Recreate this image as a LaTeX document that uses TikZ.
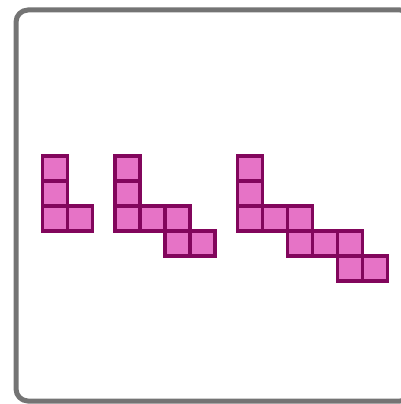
\documentclass[tikz,border=0pt]{standalone}
\usetikzlibrary{positioning}
\definecolor{cellfill}{HTML}{E673C6}
\definecolor{celledge}{HTML}{82065C}
\definecolor{framegray}{HTML}{747474}
\tikzset{
  cell/.style={
    draw=celledge,
    fill=cellfill,
    rectangle,
    minimum size=25pt,
    inner sep=0pt,
    line width=3.5pt,
  },
  frame/.style={draw=framegray, line width=5pt, rounded corners=12pt},
}

\begin{document}
\begin{tikzpicture}[x=1pt,y=-1pt]
  \useasboundingbox (0,0) rectangle (401,404);
  \clip (0,0) rectangle (401,404);
  \draw[frame] (16,10) rectangle (412,401);
  % three staircases
  \foreach \c/\r [count=\k] in {0/0,0/1,0/2,1/2} {
    \node[cell] (A\k) at (55.2+\c*25, 168.5+\r*25) {};
  }
  \foreach \c/\r [count=\k] in {0/0,0/1,0/2,1/2,2/2,2/3,3/3} {
    \node[cell] (B\k) at (127.5+\c*25, 168.5+\r*25) {};
  }
  \foreach \c/\r [count=\k] in {0/0,0/1,0/2,1/2,2/2,2/3,3/3,4/3,4/4,5/4} {
    \node[cell] (C\k) at (249.8+\c*25, 168.5+\r*25) {};
  }
\end{tikzpicture}
\end{document}
